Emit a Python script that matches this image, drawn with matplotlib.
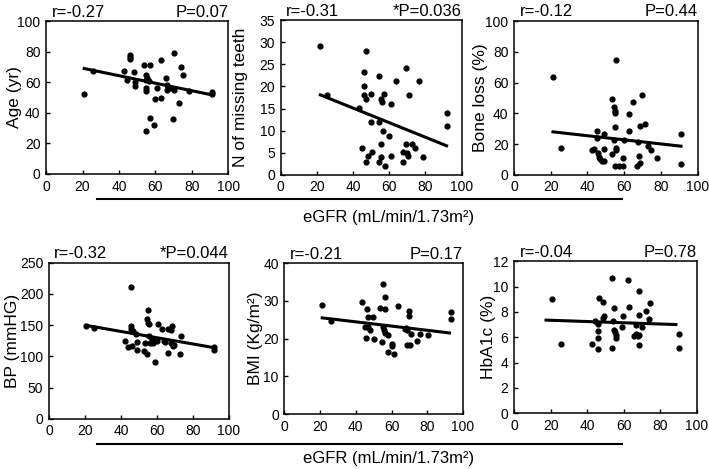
import matplotlib
matplotlib.use('Agg')
import matplotlib.pyplot as plt
from matplotlib.lines import Line2D

plt.rcParams['font.family'] = ['Liberation Sans', 'DejaVu Sans']

# eGFR vs Age
egfr_age = [20.9, 25.6, 43.0, 44.5, 45.8, 45.8, 45.8, 48.2, 48.7, 48.7, 53.8, 54.8, 54.8,
            54.8, 54.8, 54.8, 55.5, 56.6, 57.0, 57.0, 59.2, 59.9, 60.8, 63.0, 63.0, 66.0,
            66.3, 66.3, 68.0, 69.4, 70.0, 70.0, 72.9, 74.2, 75.4, 78.4, 91.2, 91.2]
age = [52, 67.4, 67.4, 61.5, 77.6, 76.3, 75, 66.5, 60, 57.8, 71, 61.5, 64.8, 56, 54.5, 28,
       63, 61, 71, 36.7, 32, 49, 56, 74.3, 49.8, 63, 58, 55, 56.5, 36, 79, 55, 46.3, 70,
       65, 54.6, 53.5, 52.2]
age_fit_x = [20.9, 91.2]
age_fit_y = [69.0, 51.7]

# eGFR vs N of missing teeth
egfr_teeth = [21.9, 25.7, 43.2, 44.9, 46.1, 46.1, 46.1, 46.9, 46.9, 47.0, 48.5, 49.8, 49.8,
              50.4, 54.6, 54.6, 54.6, 55.7, 56.0, 55.7, 55.7, 56.4, 57.2, 57.6, 59.7, 60.7,
              61.2, 63.9, 67.5, 67.5, 69.3, 69.3, 69.7, 70.4, 71.1, 72.6, 74.3, 76.6, 78.9,
              92.1, 92.1]
teeth = [29.1, 18.1, 15.2, 6.1, 23.3, 20.1, 18.1, 17.2, 28, 3, 4.2, 18.2, 11.9, 5.1, 22.3,
         11.9, 2.9, 17.2, 16.4, 7, 4.1, 10, 18.2, 2, 8.8, 4.2, 16, 21.2, 5.1, 3, 24.2, 7, 5,
         4.2, 18.1, 7, 6.1, 21.2, 4, 14.1, 11]
teeth_fit_x = [21.9, 91.7]
teeth_fit_y = [18.1, 6.6]

# eGFR vs Bone loss
egfr_bone = [21.2, 25.4, 42.6, 43.7, 45.3, 45.3, 45.8, 46.2, 46.9, 48.0, 48.9, 48.9, 48.9,
             53.1, 53.3, 54.2, 54.7, 54.9, 55.1, 54.9, 55.1, 55.6, 55.8, 55.6, 57.1, 59.2,
             59.2, 60.1, 62.5, 62.7, 65.0, 66.7, 67.4, 67.9, 68.5, 68.8, 69.6, 71.4, 72.8,
             74.6, 77.7, 90.9, 90.9]
bone = [63.5, 17.6, 15.9, 16.7, 28.3, 24, 14.3, 11.7, 10.2, 8.9, 8.9, 26.3, 16.7, 49.1,
        13.3, 23, 44, 41.3, 40, 30.9, 5.7, 17.8, 16.5, 74.6, 5.7, 11.1, 5.7, 23, 39.6, 28.3,
        47.4, 5.7, 21.5, 12, 7.8, 31.7, 51.7, 33.3, 18.7, 16.5, 10.7, 26.5, 7]
bone_fit_x = [21.2, 90.9]
bone_fit_y = [28.0, 18.7]

# eGFR vs BP
egfr_bp = [20.6, 25.0, 42.4, 43.9, 45.4, 45.4, 45.4, 46.3, 46.7, 48.3, 49.1, 49.1, 52.6,
           53.5, 54.6, 54.8, 54.4, 55.0, 55.6, 55.7, 56.0, 57.6, 58.9, 60.0, 60.7, 63.0,
           64.6, 66.1, 66.1, 67.8, 68.5, 68.0, 68.9, 72.6, 73.5, 91.9, 91.9, 57.0, 69.7, 64.0]
bp = [149, 145, 124, 115, 211.5, 149, 143, 116, 140, 135, 123, 109.5, 109, 121, 103, 174,
      160, 154, 151, 132, 122, 121, 91, 124.5, 152, 143, 123, 143, 105, 142, 148.5, 122,
      116, 103, 132, 115, 109.5, 128, 118, 124]
bp_fit_x = [20.6, 91.9]
bp_fit_y = [149.6, 113.8]

# eGFR vs BMI
egfr_bmi = [21.2, 25.9, 43.6, 46.4, 46.7, 46.6, 46.0, 44.9, 48.0, 49.9, 50.3, 53.8, 54.4,
            55.5, 56.4, 56.4, 55.0, 55.7, 57.9, 60.1, 60.5, 61.5, 63.7, 67.8, 68.7, 70.2,
            70.0, 70.0, 68.7, 71.1, 74.5, 76.2, 80.4, 93.1, 93.1, 56.5, 58.0, 68.0]
bmi = [29, 24.6, 29.6, 27.9, 25.6, 23.2, 20.1, 23.2, 22.4, 25.6, 20, 28, 19.1, 34.5, 31,
       27.8, 23.1, 22.2, 16.4, 18.1, 18.7, 15.9, 28.6, 22.5, 18.2, 18.2, 27.3, 26.1, 22.4,
       21.2, 19.3, 21.1, 20.9, 27, 25.1, 21.5, 21, 22.8]
bmi_fit_x = [21.2, 92.5]
bmi_fit_y = [25.5, 21.5]

# eGFR vs HbA1c
egfr_hba1c = [20.6, 25.7, 42.7, 44.3, 45.8, 45.8, 45.8, 45.8, 46.4, 48.4, 48.7, 49.3, 53.4,
              53.4, 54.4, 54.2, 54.7, 55.1, 55.7, 56.0, 59.7, 59.1, 62.4, 62.8, 65.5, 66.6,
              67.7, 68.4, 66.9, 68.4, 68.4, 68.4, 70.1, 71.9, 73.7, 74.6, 90.1, 90.1]
hba1c = [9.0, 5.44, 5.44, 7.3, 7.06, 6.5, 5.96, 5.1, 9.06, 8.8, 7.5, 7.7, 10.7, 5.17, 8.3,
         7.3, 6.6, 6.4, 6.2, 5.9, 7.7, 6.8, 10.55, 8.4, 6.1, 6.25, 6.1, 6.15, 7.0, 9.66,
         7.75, 5.4, 6.8, 8.1, 7.4, 8.7, 6.25, 5.17]
hba1c_fit_x = [17.5, 88.5]
hba1c_fit_y = [7.35, 7.0]

x_ticks = [0, 20, 40, 60, 80, 100]
xlabel = 'eGFR (mL/min/1.73m²)'

panels = [
    # x, y, fit x, fit y, ylabel, ymax, ystep, r text, p text, axes rect, label x
    (egfr_age, age, age_fit_x, age_fit_y, 'Age (yr)', 100, 20, 'r=-0.27', 'P=0.07',
     [0.065, 0.629, 0.257, 0.326], -0.13),
    (egfr_teeth, teeth, teeth_fit_x, teeth_fit_y, 'N of missing teeth', 35, 5, 'r=-0.31',
     '*P=0.036', [0.396, 0.627, 0.255, 0.330], -0.18),
    (egfr_bone, bone, bone_fit_x, bone_fit_y, 'Bone loss (%)', 100, 20, 'r=-0.12', 'P=0.44',
     [0.725, 0.627, 0.259, 0.328], -0.14),
    (egfr_bp, bp, bp_fit_x, bp_fit_y, 'BP (mmHG)', 250, 50, 'r=-0.32', '*P=0.044',
     [0.069, 0.107, 0.254, 0.333], -0.16),
    (egfr_bmi, bmi, bmi_fit_x, bmi_fit_y, 'BMI (Kg/m²)', 40, 10, 'r=-0.21', 'P=0.17',
     [0.401, 0.117, 0.252, 0.322], -0.12),
    (egfr_hba1c, hba1c, hba1c_fit_x, hba1c_fit_y, 'HbA1c (%)', 12, 2, 'r=-0.04', 'P=0.78',
     [0.725, 0.119, 0.258, 0.324], -0.10),
]

fig = plt.figure(figsize=(7.09, 4.69), dpi=100)

for xs, ys, fx, fy, ylab, ymax, ystep, rtxt, ptxt, rect, labx in panels:
    ax = fig.add_axes(rect)
    ax.scatter(xs, ys, s=12, color='black', zorder=3)
    ax.plot(fx, fy, color='black', lw=2.2, zorder=2)
    ax.set_xlim(0, 100)
    ax.set_ylim(0, ymax)
    ax.set_xticks(x_ticks)
    ax.set_yticks(list(range(0, ymax, ystep)) if ymax % ystep
                  else list(range(0, ymax + 1, ystep)))
    ax.tick_params(direction='in', length=3, width=1, labelsize=10, pad=4)
    for sp in ax.spines.values():
        sp.set_linewidth(1.1)
    ax.set_ylabel(ylab, fontsize=12.5)
    ax.yaxis.set_label_coords(labx, 0.5)
    ax.text(0.03, 1.03, rtxt, transform=ax.transAxes, ha='left', va='baseline',
            fontsize=12)
    ax.text(1.0, 1.03, ptxt, transform=ax.transAxes, ha='right', va='baseline',
            fontsize=12)

# общая подпись оси x для каждого ряда
for y_line, y_text in [(199, 217), (444, 458)]:
    fig.add_artist(Line2D([97 / 709, 622 / 709], [1 - y_line / 469] * 2,
                          color='black', lw=1.5))
    fig.text(389 / 709, 1 - y_text / 469, xlabel, ha='center', va='center', fontsize=12)

fig.savefig('out.png', dpi=100)
